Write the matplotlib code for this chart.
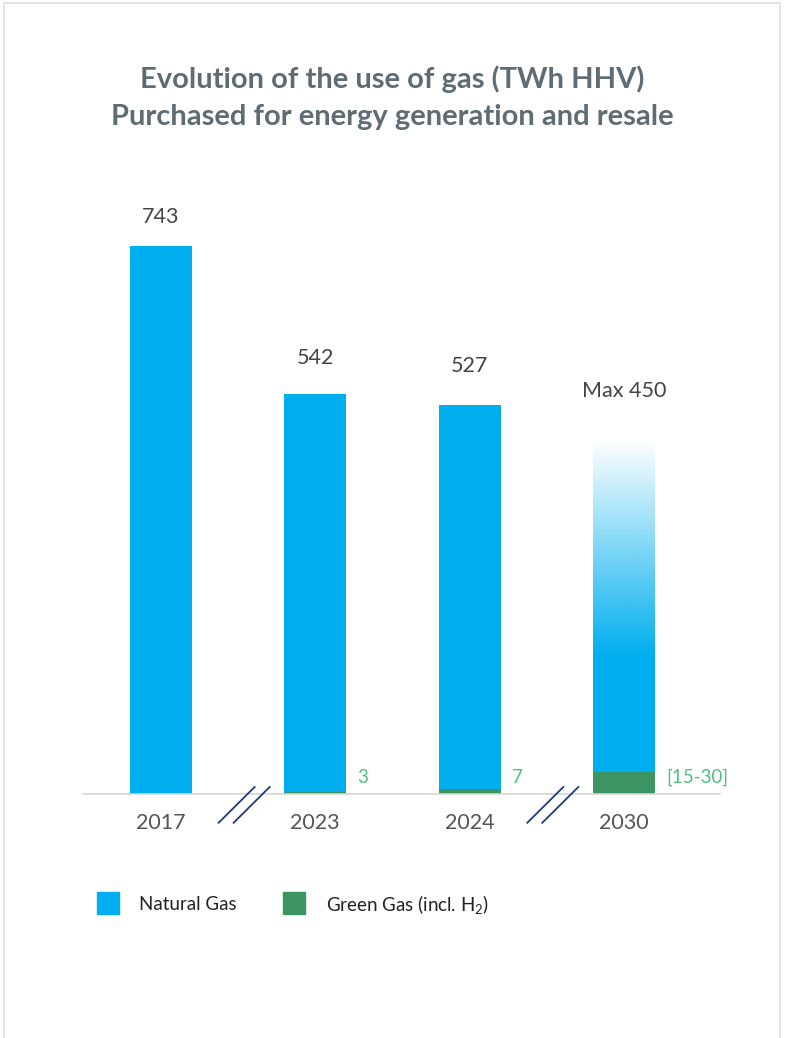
import numpy as np
import matplotlib
matplotlib.use('Agg')
import matplotlib.pyplot as plt
from matplotlib.patches import Rectangle
from matplotlib.colors import to_rgb

plt.rcParams['font.family'] = ['Lato', 'DejaVu Sans']
plt.rcParams['mathtext.default'] = 'regular'

# data
years = ['2017', '2023', '2024', '2030']
natural_gas = [743, 539, 520, 450]
green_gas = [0, 3, 7, 30]
total_labels = ['743', '542', '527', 'Max 450']
green_labels = ['', '3', '7', '[15-30]']

BLUE = '#00AEEF'
GREEN = '#3D9463'
GREEN_TXT = '#4DC27A'
GREY_TXT = '#444444'
TITLE_C = '#5F6C74'

fig = plt.figure(figsize=(7.85, 10.38), dpi=100)

# outer frame
fig.patches.append(Rectangle((4 / 785, -0.02), 776 / 785, 1.02 - 3 / 1038,
                             transform=fig.transFigure, fill=False,
                             edgecolor='#dedede', linewidth=1.2))

fig.text(0.5, 1 - 79 / 1038, 'Evolution of the use of gas (TWh HHV)',
         ha='center', va='center', fontsize=21, fontweight='bold', color=TITLE_C)
fig.text(0.5, 1 - 117 / 1038, 'Purchased for energy generation and resale',
         ha='center', va='center', fontsize=21, fontweight='bold', color=TITLE_C)

ax = fig.add_axes([83 / 785, 1 - 794 / 1038, 637 / 785, 594 / 1038])
x = np.arange(len(years))
w = 0.40

# solid bars (all but the 2030 target)
ax.bar(x[:3], natural_gas[:3], w, bottom=green_gas[:3], color=BLUE)
ax.bar(x, green_gas, w, color=GREEN)

# 2030 natural gas as a fading gradient
n = 256
alpha = np.ones(n)
t = np.linspace(0, 1, n)
solid = 0.35
alpha[t > solid] = 1 - (t[t > solid] - solid) / (1 - solid)
grad = np.zeros((n, 1, 4))
grad[:, 0, :3] = to_rgb(BLUE)
grad[:, 0, 3] = alpha
ax.imshow(grad, extent=[x[3] - w / 2, x[3] + w / 2, green_gas[3],
                        green_gas[3] + natural_gas[3]],
          origin='lower', aspect='auto', zorder=2)

# value labels
offsets = [29, 36, 39, 49]
for i in range(len(years)):
    top = natural_gas[i] + green_gas[i]
    ax.annotate(total_labels[i], xy=(x[i], top), xytext=(0, offsets[i] * 0.72),
                textcoords='offset points', ha='center', va='center',
                fontsize=15.5, color=GREY_TXT)
    if green_labels[i]:
        ax.annotate(green_labels[i], xy=(x[i] + w / 2, 0), xytext=(8, 12),
                    textcoords='offset points', ha='left', va='center',
                    fontsize=13.5, color=GREEN_TXT)

# axis break marks
for xb in [0.5, 2.5]:
    xc = xb + 6 / 154.3
    for d in [-7.5 / 154.3, 7.5 / 154.3]:
        ax.plot([xc + d - 18 / 154.3, xc + d + 18 / 154.3], [-39, 9.5],
                color='#1F3A7A', lw=1.3, clip_on=False, zorder=5)

ax.set_xlim(-0.505, 3.622)
ax.set_ylim(0, 805)
ax.set_xticks(x)
ax.set_xticklabels(years, fontsize=15.5, color='#555555')
ax.tick_params(axis='x', length=0, pad=14)
ax.set_yticks([])
for s in ['top', 'right', 'left']:
    ax.spines[s].set_visible(False)
ax.spines['bottom'].set_color('#d5d5d5')
ax.spines['bottom'].set_linewidth(1.2)

# legend
leg = [('Natural Gas', BLUE, 97, 139), ('Green Gas (incl. H$_2$)', GREEN, 283, 326)]
for label, col, xs, xt in leg:
    fig.patches.append(Rectangle((xs / 785, 1 - 914 / 1038), 22 / 785, 22 / 1038,
                                 transform=fig.transFigure, color=col))
    fig.text(xt / 785, 1 - 904 / 1038, label, ha='left', va='center',
             fontsize=13.5, color='#222222')

fig.savefig('out.png', dpi=100)
